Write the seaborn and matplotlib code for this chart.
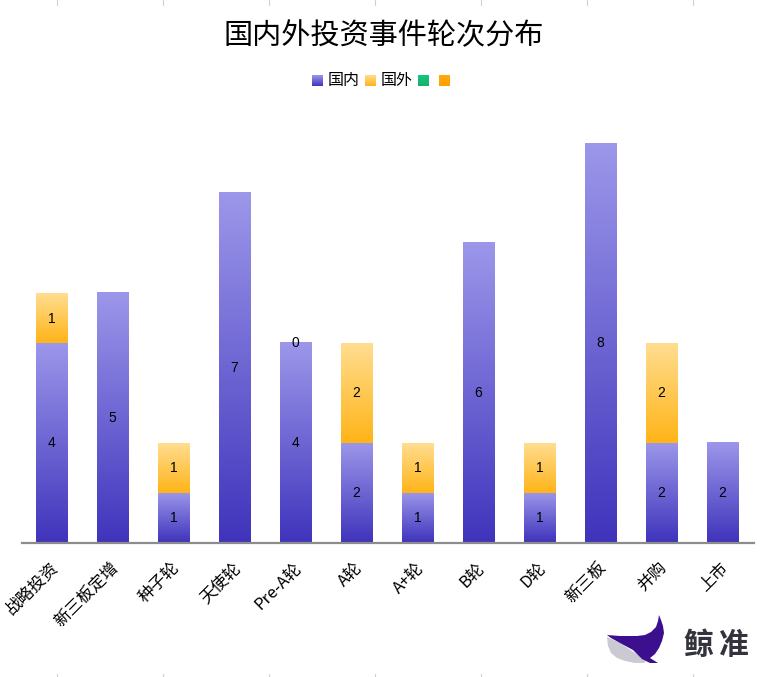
import numpy as np
import seaborn as sns
import matplotlib.pyplot as plt
from matplotlib.patches import Polygon
from matplotlib.transforms import ScaledTranslation

categories = ['战略投资', '新三板定增', '种子轮', '天使轮', 'Pre-A轮', 'A轮', 'A+轮', 'B轮', 'D轮', '新三板', '并购', '上市']
domestic = [4, 5, 1, 7, 4, 2, 1, 6, 1, 8, 2, 2]
foreign = [1, np.nan, 1, np.nan, 0, 2, 1, np.nan, 1, np.nan, 2, np.nan]
legend_names = ['国内', '国外', '', '']
title = '国内外投资事件轮次分布'


def gradient(ax, x0, x1, y0, y1, top, bottom, zorder=3):
    # vertical fade, light on top
    cols = np.linspace(plt.matplotlib.colors.to_rgb(top), plt.matplotlib.colors.to_rgb(bottom), 128)
    ax.imshow(cols[:, None, :], extent=[x0, x1, y0, y1], aspect='auto', zorder=zorder, interpolation='bilinear')


def fill_bars(ax, bars, top, bottom):
    for bar in bars:
        if bar.get_height() > 0:
            gradient(ax, bar.get_x(), bar.get_x() + bar.get_width(), bar.get_y(), bar.get_y() + bar.get_height(), top, bottom)


def plot_bars(ax):
    x = np.arange(len(categories))
    base = np.array(domestic)
    sns.barplot(x=x, y=domestic, width=0.52, color='#7c75d8', ax=ax)
    n = len(ax.patches)
    # blank slots stay in as zero height so bottom lines up
    sns.barplot(x=x, y=np.nan_to_num(foreign), bottom=base, width=0.52, color='#ffc850', ax=ax)
    fill_bars(ax, ax.patches[:n], '#9c97ea', '#4034bc')
    fill_bars(ax, ax.patches[n:], '#ffdd90', '#ffb418')
    for i, v in enumerate(domestic):
        ax.text(i - 0.01, v / 2 - 0.015, str(v), ha='center', va='center', fontsize=10, family='Liberation Sans', zorder=5)
    for i, v in enumerate(foreign):
        if not np.isnan(v):
            ax.text(i - 0.01, base[i] + v / 2 - 0.015, str(int(v)), ha='center', va='center', fontsize=10, family='Liberation Sans', zorder=5)
    ax.set_xlim(-0.492, 11.508)
    ax.set_ylim(0, 8)
    ax.set_xticks(x)
    ax.set_xticklabels(categories, rotation=45, ha='right', va='top', rotation_mode='anchor', fontsize=12)
    ax.tick_params(axis='x', length=0, pad=12, labelcolor='black')
    shift = ScaledTranslation(-3 / 100, 0, ax.figure.dpi_scale_trans)  # labels sit a little left
    for label in ax.get_xticklabels():
        label.set_transform(label.get_transform() + shift)
    ax.set_yticks([])
    sns.despine(ax=ax, left=True)
    ax.spines['bottom'].set_color('#8c8c8c')
    ax.spines['bottom'].set_linewidth(1.6)
    ax.spines['bottom'].set_zorder(6)


def plot_extras(over):
    over.set_xlim(0, 769)
    over.set_ylim(677, 0)
    over.axis('off')
    over.text(383.5, 36.5, title, ha='center', va='center', fontsize=21)
    # legend
    gradient(over, 312, 323, 86, 75, '#9c97ea', '#4034bc')
    gradient(over, 365, 376, 86, 75, '#ffdd90', '#ffb418')
    gradient(over, 418, 429, 86, 75, '#18c47c', '#14b070')
    gradient(over, 439, 450, 86, 75, '#ffaa10', '#ffa000')
    over.text(328, 81, legend_names[0], va='center', fontsize=11.5)
    over.text(381, 81, legend_names[1], va='center', fontsize=11.5)
    # faint marks on the edges
    for tx in range(57, 700, 106):
        over.plot([tx, tx], [0, 5], color='#d0d0d0', lw=0.8)
        over.plot([tx, tx], [674, 677], color='#d0d0d0', lw=0.8)
    # logo
    over.add_patch(Polygon([(607, 637), (608, 646), (611, 653), (617, 658), (625, 661), (635, 663), (644, 663),
                            (647, 660), (640, 656), (632, 651), (620, 643)], color='#cbcad2', lw=0))
    over.add_patch(Polygon([(607, 635), (620, 636), (637, 636), (645, 635), (651, 632), (656, 627), (658, 621),
                            (659, 615), (661, 620), (663, 626), (664, 633), (662, 641), (659, 648), (655, 654),
                            (650, 658), (658, 663), (650, 663), (642, 659), (633, 650), (620, 643), (611, 638)],
                           color='#3b0f8e', lw=0))
    over.text(698, 645, '鲸', ha='center', va='center', fontsize=21.5, fontweight='bold', color='#33333d')
    over.text(734, 645, '准', ha='center', va='center', fontsize=21.5, fontweight='bold', color='#33333d')


if __name__ == "__main__":
    sns.set_style('white')
    plt.rcParams['font.family'] = ['Noto Sans CJK SC', 'DejaVu Sans']
    plt.rcParams['text.color'] = 'black'
    fig = plt.figure(figsize=(7.69, 6.77), dpi=100)
    ax = fig.add_axes([22 / 769, (677 - 542.5) / 677, 732 / 769, 399.5 / 677])
    plot_bars(ax)
    over = fig.add_axes([0, 0, 1, 1], facecolor='none')
    plot_extras(over)
    fig.savefig('out.png', dpi=100)
